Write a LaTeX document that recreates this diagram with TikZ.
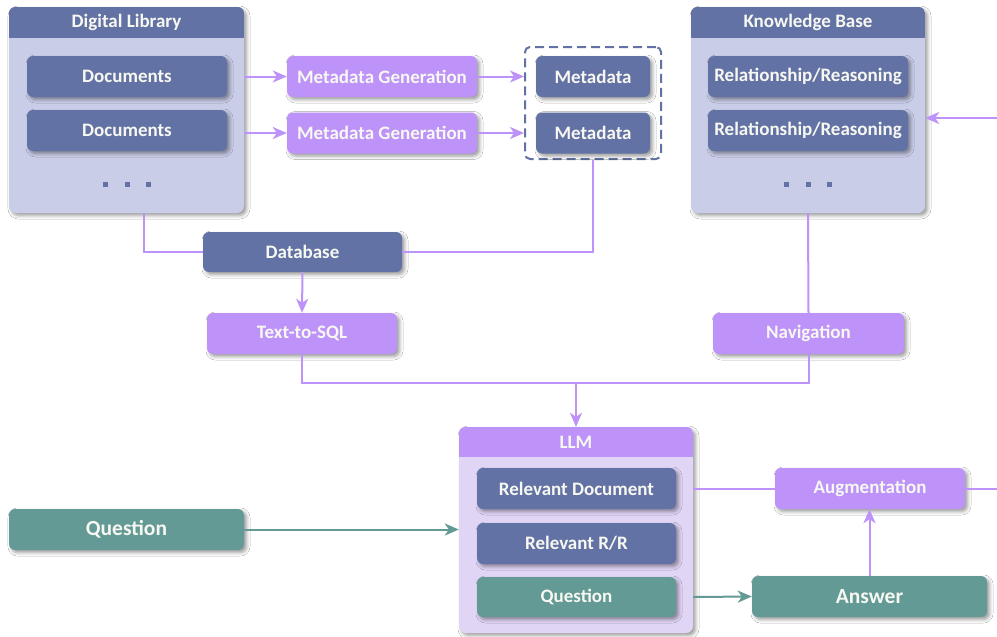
\documentclass[tikz,border=0pt]{standalone}
\usepackage{fontspec}
\setmainfont{Carlito}
\usetikzlibrary{arrows.meta,shadows.blur,calc}
\definecolor{dk}{HTML}{6272A4}
\definecolor{lt}{HTML}{C9CDE8}
\definecolor{pu}{HTML}{BD93F9}
\definecolor{plt}{HTML}{E1D5F6}
\definecolor{te}{HTML}{639A95}
\definecolor{fg}{HTML}{F8F8F2}
\tikzset{
  shad/.style={blur shadow={shadow xshift=2.5pt, shadow yshift=-2.5pt, shadow blur radius=3.5pt, shadow opacity=40}},
  container/.style={rectangle, rounded corners=7pt, minimum width=235pt, minimum height=206pt, inner sep=0pt, shad},
  box/.style={rectangle, rounded corners=6pt, minimum height=41pt, inner sep=0pt, text=fg, shad,
    font=\bfseries\fontsize{19}{22}\selectfont},
  dkbox/.style={box, fill=dk},
  pubox/.style={box, fill=pu},
  tebox/.style={box, fill=te},
  llmbox/.style={box, font=\bfseries\fontsize{19}{22}\selectfont, minimum width=199pt},
  bigbox/.style={box, font=\bfseries\fontsize{21.5}{25}\selectfont, minimum width=235pt},
  title/.style={text=fg, font=\bfseries\fontsize{19}{22}\selectfont, inner sep=0pt},
  dotsq/.style={rectangle, fill=dk, minimum size=5pt, inner sep=0pt},
  pline/.style={draw=pu, line width=2pt},
  parrow/.style={pline, -{Stealth[length=14pt, width=12pt, inset=4pt]}},
  tline/.style={draw=te, line width=2pt},
  tarrow/.style={tline, -{Stealth[length=14pt, width=12pt, inset=4pt]}},
}
\begin{document}
\begin{tikzpicture}[x=1pt,y=-1pt]
\useasboundingbox[fill=white] (0,0) rectangle (997,637);

% ---- Digital Library container
\node[container, fill=lt] (dl) at (126.5,110) {};
\begin{scope}
  \clip[rounded corners=7pt] (dl.north west) rectangle (dl.south east);
  \fill[dk] (dl.north west) rectangle ($(dl.north east)+(0,31)$);
\end{scope}
\node[title] (dlt) at (126.5,22.5) {Digital Library};
\node[dkbox, minimum width=200pt] (doc1) at (127,76.5) {Documents};
\node[dkbox, minimum width=200pt] (doc2) at (127,130.5) {Documents};
\node[dotsq] (dla) at (105,184) {};
\node[dotsq] (dlb) at (127,184) {};
\node[dotsq] (dlc) at (148,184) {};

% ---- Metadata generation
\node[pubox, minimum width=190pt] (mg1) at (382,76.5) {Metadata Generation};
\node[pubox, minimum width=190pt] (mg2) at (382,133) {Metadata Generation};

% ---- Metadata dashed group
\node[draw=dk, line width=2pt, dash pattern=on 9pt off 5pt, rounded corners=5pt,
      minimum width=136pt, minimum height=112pt, inner sep=0pt] (mdbox) at (593,103) {};
\node[dkbox, minimum width=114pt] (md1) at (593,76.5) {Metadata};
\node[dkbox, minimum width=114pt] (md2) at (593,133) {Metadata};

% ---- Knowledge Base container
\node[container, fill=lt, minimum width=234pt] (kb) at (808,110) {};
\begin{scope}
  \clip[rounded corners=7pt] (kb.north west) rectangle (kb.south east);
  \fill[dk] (kb.north west) rectangle ($(kb.north east)+(0,31)$);
\end{scope}
\node[title] (kbt) at (808,22.5) {Knowledge Base};
\node[dkbox, minimum width=200pt] (rr1) at (808,76.5) {Relationship/Reasoning};
\node[dkbox, minimum width=200pt] (rr2) at (808,130.5) {Relationship/Reasoning};
\node[dotsq] (kba) at (786,184) {};
\node[dotsq] (kbb) at (808,184) {};
\node[dotsq] (kbc) at (829,184) {};

% ---- Database, Text-to-SQL, Navigation
\node[dkbox, minimum width=199pt, minimum height=40pt] (db) at (302.5,252) {Database};
\node[pubox, minimum width=190pt] (t2s) at (302,333.5) {Text-to-SQL};
\node[pubox, minimum width=191pt] (nav) at (808.5,333.5) {Navigation};

% ---- LLM container
\node[container, fill=plt, minimum width=234pt] (llm) at (576,530) {};
\begin{scope}
  \clip[rounded corners=7pt] (llm.north west) rectangle (llm.south east);
  \fill[pu] (llm.north west) rectangle ($(llm.north east)+(0,30)$);
\end{scope}
\node[title] (llmt) at (576,442) {LLM};
\node[llmbox, fill=dk] (rd) at (576.5,488.5) {Relevant Document};
\node[llmbox, fill=dk] (rrr) at (576.5,543.5) {Relevant R/R};
\node[llmbox, fill=te, minimum height=40pt] (qin) at (576.5,597) {Question};

% ---- Question, Augmentation, Answer
\node[bigbox, fill=te] (q) at (126.5,529.5) {Question};
\node[pubox, minimum width=190pt] (aug) at (870,488.5) {Augmentation};
\node[bigbox, fill=te] (ans) at (869.5,596.5) {Answer};

% ---- helper coordinates
\coordinate (dlout) at (144,213);
\coordinate (junc) at (576,383);
\coordinate (kbin) at (997,118);
\coordinate (augout) at (997,488.5);

% ---- connectors
\draw[parrow] (dl.east |- doc1) -- (mg1.west);
\draw[parrow] (dl.east |- mg2) -- (mg2.west);
\draw[parrow] (mg1.east) -- (mdbox.west |- mg1);
\draw[parrow] (mg2.east) -- (mdbox.west |- mg2);
\draw[pline] (mdbox.south) |- (db.east);
\draw[pline] (dlout) |- (db.west);
\draw[parrow] (db.south) -- (t2s.north);
\draw[pline] (t2s.south) -- (t2s.south |- junc) -- (nav.south |- junc) -- (nav.south);
\draw[parrow] (junc) -- (llm.north);
\draw[pline] (kb.south) -- (nav.north);
\draw[parrow] (kbin) -- (kbin -| kb.east);
\draw[tarrow] (q.east) -- (llm.west |- q);
\draw[pline] (llm.east |- rd) -- (aug.west);
\draw[pline] (aug.east) -- (augout);
\draw[tarrow] (llm.east |- qin) -- (ans.west);
\draw[parrow] (ans.north) -- (ans.north |- aug.south);
\end{tikzpicture}
\end{document}
